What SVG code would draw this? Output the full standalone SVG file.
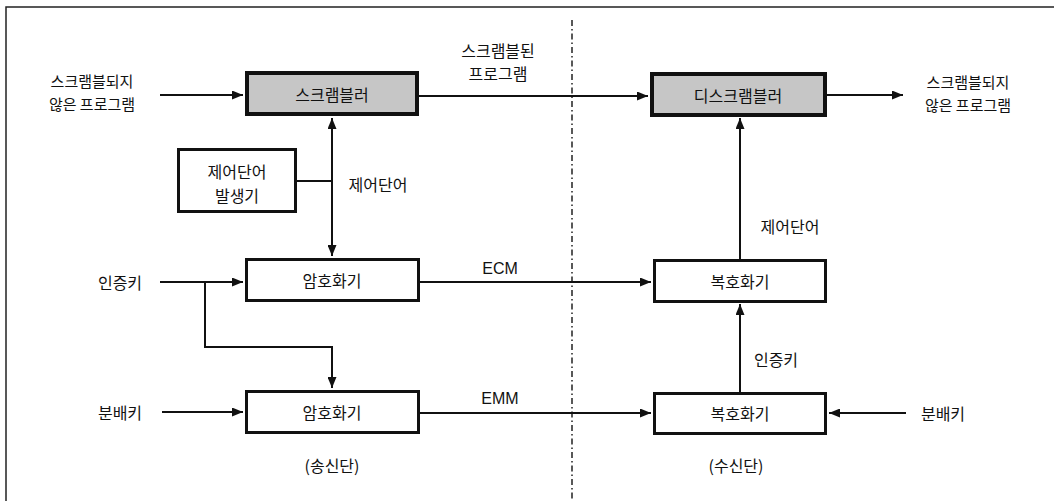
<svg xmlns="http://www.w3.org/2000/svg" width="1054" height="501" viewBox="0 0 1054 501">
<style>
text{font-family:"Noto Sans CJK KR","Noto Sans",sans-serif;font-size:16px;fill:#111;text-anchor:middle;dominant-baseline:central}
.sm{font-size:15px}
.lat{font-family:"Liberation Sans",Arial,sans-serif;font-size:16px}
.shade{fill:#c6c6c6;stroke:#111;stroke-width:4}
.box{fill:#fff;stroke:#111;stroke-width:3}
.ln{fill:none;stroke:#111;stroke-width:2}
.arr{fill:none;stroke:#111;stroke-width:2;marker-end:url(#ah)}
</style>
<defs>
<marker id="ah" markerUnits="userSpaceOnUse" markerWidth="11" markerHeight="9" refX="11" refY="4.5" orient="auto">
<path d="M0,0 L11,4.5 L0,9 z" fill="#111"/>
</marker>
</defs>
<rect width="1054" height="501" fill="#fff"/>
<g id="frame">
<path d="M6,501 V7 H1054" fill="none" stroke="#222" stroke-width="1.5"/>
<line x1="572" y1="20" x2="572" y2="501" stroke="#222" stroke-width="1.5" stroke-dasharray="6 3 1.5 3"/>
</g>
<g id="connectors">
<line class="arr" x1="160" y1="95" x2="243" y2="95"/>
<line class="arr" x1="419" y1="96" x2="648" y2="96"/>
<line class="arr" x1="827" y1="95" x2="903" y2="95"/>
<line class="ln" x1="297" y1="181" x2="332" y2="181"/>
<line class="arr" x1="332" y1="181" x2="332" y2="118"/>
<line class="arr" x1="332" y1="181" x2="332" y2="256"/>
<line class="arr" x1="160" y1="282" x2="243" y2="282"/>
<polyline class="arr" points="205,282 205,347 332,347 332,388"/>
<line class="arr" x1="162" y1="412" x2="243" y2="412"/>
<line class="arr" x1="420" y1="282" x2="651" y2="282"/>
<line class="arr" x1="420" y1="413" x2="651" y2="413"/>
<line class="arr" x1="740" y1="259" x2="740" y2="118"/>
<line class="arr" x1="740" y1="392" x2="740" y2="304"/>
<line class="arr" x1="906" y1="413" x2="829" y2="413"/>
</g>
<g id="scrambler"><rect class="shade" x="247" y="73" width="170" height="41"/><text x="332" y="94">스크램블러</text></g>
<g id="descrambler"><rect class="shade" x="652" y="74" width="173" height="41"/><text x="738" y="95">디스크램블러</text></g>
<g id="cw-generator"><rect class="box" x="178.5" y="149.5" width="117" height="62"/><text x="237" y="171">제어단어</text><text x="237" y="195">발생기</text></g>
<g id="encryptor1"><rect class="box" x="246.5" y="259.5" width="172" height="41"/><text x="332" y="280">암호화기</text></g>
<g id="encryptor2"><rect class="box" x="246.5" y="391.5" width="172" height="41"/><text x="332" y="412">암호화기</text></g>
<g id="decryptor1"><rect class="box" x="654.5" y="260.5" width="171" height="41"/><text x="740" y="281">복호화기</text></g>
<g id="decryptor2"><rect class="box" x="654.5" y="393.5" width="171" height="40"/><text x="740" y="413">복호화기</text></g>
<g id="labels">
<text class="sm" x="92" y="80">스크램블되지</text>
<text class="sm" x="92" y="103">않은 프로그램</text>
<text x="498" y="50">스크램블된</text>
<text x="498" y="73">프로그램</text>
<text class="sm" x="968" y="81">스크램블되지</text>
<text class="sm" x="968" y="104">않은 프로그램</text>
<text x="378" y="184">제어단어</text>
<text x="790" y="226">제어단어</text>
<text x="120" y="282">인증키</text>
<text x="120" y="412">분배키</text>
<text x="943" y="413">분배키</text>
<text x="776" y="359">인증키</text>
<text class="lat" x="500" y="268">ECM</text>
<text class="lat" x="500" y="398">EMM</text>
<text x="332" y="465">(송신단)</text>
<text x="736" y="465">(수신단)</text>
</g>
</svg>
